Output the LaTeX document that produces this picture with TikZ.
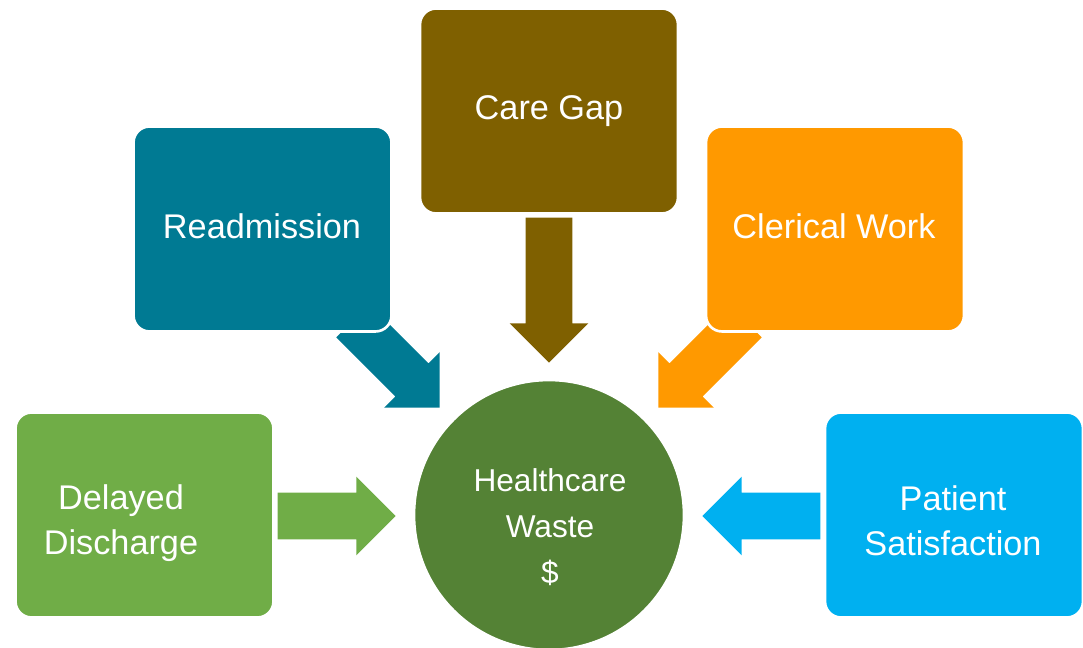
\documentclass[tikz,border=0pt]{standalone}
\usepackage{fontspec}
\setmainfont{Liberation Sans}
\usetikzlibrary{shapes.arrows}

\definecolor{readmitteal}{HTML}{007A93}
\definecolor{caregold}{HTML}{7F6000}
\definecolor{clericalorange}{HTML}{FF9900}
\definecolor{delaygreen}{HTML}{70AD47}
\definecolor{patientblue}{HTML}{00B0F0}
\definecolor{wastegreen}{HTML}{548235}

\tikzset{
  box/.style={rectangle, rounded corners=0.32cm, minimum width=5.16cm, minimum height=4.1cm,
    draw=white, line width=1.5pt, text=white, align=center,
    font=\fontsize{19.5}{25.6}\selectfont},
  boxtext/.style={text=white, align=center, font=\fontsize{19.5}{25.6}\selectfont},
  blockarrow/.style={single arrow, inner xsep=0pt, inner ysep=0.46cm, single arrow head extend=0.32cm,
    single arrow tip angle=90, minimum height=2.36cm}
}

\begin{document}
\begin{tikzpicture}[x=0.02cm,y=-0.02cm]
            \useasboundingbox (0,0) rectangle (1083,648);

            \node[blockarrow, fill=readmitteal, rotate=-45, minimum height=2.46cm] (ar) at (388,356) {};
            \node[blockarrow, fill=caregold, rotate=-90, minimum height=2.9cm] (ac) at (549,278.5) {};
            \node[blockarrow, fill=clericalorange, rotate=-135, minimum height=2.46cm] (aw) at (710,356) {};
            \node[blockarrow, fill=delaygreen] (ad) at (325,516) {};
            \node[blockarrow, fill=patientblue, rotate=180] (ap) at (773,516) {};

            \node[box, fill=readmitteal] (R) at (262.5,229) {};
            \node[boxtext] (Rt) at (262,226) {Readmission};
            \node[box, fill=caregold] (C) at (549,111) {Care Gap};
            \node[box, fill=clericalorange] (W) at (835,229) {};
            \node[boxtext] (Wt) at (834,226) {Clerical Work};
            \node[box, fill=delaygreen] (D) at (144.5,515) {};
            \node[boxtext] (Dt) at (121,523) {Delayed\\Discharge};
            \node[box, fill=patientblue] (P) at (954,515) {};
            \node[boxtext] (Pt) at (953,521) {Patient\\Satisfaction};

            \node[circle, fill=wastegreen, draw=white, line width=1.5pt, minimum size=5.4cm] (H) at (549,515) {};
            \node[text=white, align=center, font=\fontsize{18}{26}\selectfont] (Ht) at (550,527) {Healthcare\\Waste\\\$};
        \end{tikzpicture}
\end{document}
